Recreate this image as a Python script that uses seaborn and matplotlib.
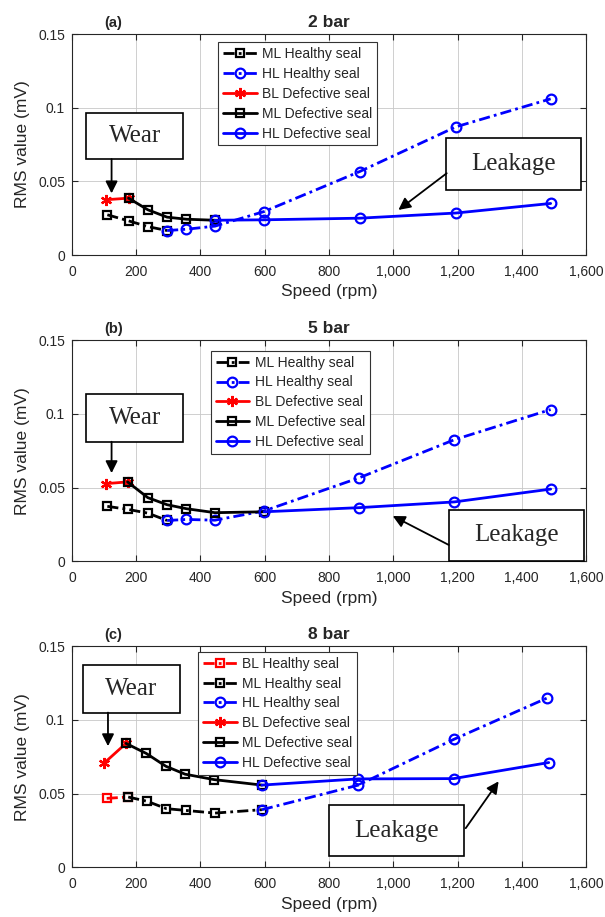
import matplotlib
matplotlib.use("Agg")
import matplotlib.pyplot as plt
import seaborn as sns
from matplotlib.patches import Rectangle

sns.set_style("ticks")
plt.rcParams["font.family"] = ["Liberation Sans", "DejaVu Sans"]

# ---------------- data ----------------
# (a) 2 bar
a_ml_hea_x = [110, 176, 236, 296]
a_ml_hea_y = [0.0273, 0.0232, 0.0193, 0.0166]
a_hl_hea_x = [296, 356, 445, 598, 895, 1195, 1490]
a_hl_hea_y = [0.0166, 0.0175, 0.0196, 0.0295, 0.0566, 0.087, 0.106]
a_bl_def_x = [105, 176]
a_bl_def_y = [0.0375, 0.0386]
a_ml_def_x = [176, 236, 296, 356, 445]
a_ml_def_y = [0.0386, 0.0307, 0.0257, 0.0243, 0.0236]
a_hl_def_x = [445, 598, 895, 1195, 1490]
a_hl_def_y = [0.0236, 0.0239, 0.025, 0.0285, 0.035]

# (b) 5 bar
b_ml_hea_x = [110, 175, 236, 296]
b_ml_hea_y = [0.0373, 0.0352, 0.0327, 0.0277]
b_hl_hea_x = [296, 356, 445, 598, 893, 1190, 1490]
b_hl_hea_y = [0.0277, 0.0284, 0.0279, 0.0342, 0.0566, 0.0825, 0.103]
b_bl_def_x = [106, 173]
b_bl_def_y = [0.0527, 0.0539]
b_ml_def_x = [173, 236, 296, 356, 445, 598]
b_ml_def_y = [0.0539, 0.0432, 0.0384, 0.0357, 0.033, 0.0336]
b_hl_def_x = [598, 893, 1190, 1490]
b_hl_def_y = [0.0336, 0.0364, 0.0403, 0.049]

# (c) 8 bar
c_bl_hea_x = [108, 175]
c_bl_hea_y = [0.0468, 0.0477]
c_ml_hea_x = [175, 234, 294, 354, 445, 591]
c_ml_hea_y = [0.0477, 0.0448, 0.0398, 0.0386, 0.0368, 0.0391]
c_hl_hea_x = [591, 890, 1188, 1480]
c_hl_hea_y = [0.0391, 0.0557, 0.0868, 0.115]
c_bl_def_x = [99, 168]
c_bl_def_y = [0.0705, 0.0841]
c_ml_def_x = [168, 231, 292, 352, 443, 591]
c_ml_def_y = [0.0841, 0.0773, 0.0686, 0.0632, 0.0595, 0.0558]
c_hl_def_x = [591, 891, 1188, 1484]
c_hl_def_y = [0.0558, 0.06, 0.0602, 0.0711]

x_ticks = [0, 200, 400, 600, 800, 1000, 1200, 1400, 1600]
x_tick_labels = ["0", "200", "400", "600", "800", "1,000", "1,200", "1,400", "1,600"]
y_ticks = [0, 0.05, 0.1, 0.15]
y_tick_labels = ["0", "0.05", "0.1", "0.15"]

titles = ["2 bar", "5 bar", "8 bar"]
tags = ["(a)", "(b)", "(c)"]

# ---------------- styles ----------------
DASHDOT = (0, (4.0, 1.5, 1.0, 1.5))
STAR = (6, 2, 0)
sty = {
    "BL Healthy seal": ("red", DASHDOT, "s", 6),
    "ML Healthy seal": ("black", DASHDOT, "s", 6),
    "HL Healthy seal": ("blue", DASHDOT, "o", 7),
    "BL Defective seal": ("red", "-", STAR, 8),
    "ML Defective seal": ("black", "-", "s", 6),
    "HL Defective seal": ("blue", "-", "o", 7),
}

panels = [
    [("ML Healthy seal", a_ml_hea_x, a_ml_hea_y),
     ("HL Healthy seal", a_hl_hea_x, a_hl_hea_y),
     ("BL Defective seal", a_bl_def_x, a_bl_def_y),
     ("ML Defective seal", a_ml_def_x, a_ml_def_y),
     ("HL Defective seal", a_hl_def_x, a_hl_def_y)],
    [("ML Healthy seal", b_ml_hea_x, b_ml_hea_y),
     ("HL Healthy seal", b_hl_hea_x, b_hl_hea_y),
     ("BL Defective seal", b_bl_def_x, b_bl_def_y),
     ("ML Defective seal", b_ml_def_x, b_ml_def_y),
     ("HL Defective seal", b_hl_def_x, b_hl_def_y)],
    [("BL Healthy seal", c_bl_hea_x, c_bl_hea_y),
     ("ML Healthy seal", c_ml_hea_x, c_ml_hea_y),
     ("HL Healthy seal", c_hl_hea_x, c_hl_hea_y),
     ("BL Defective seal", c_bl_def_x, c_bl_def_y),
     ("ML Defective seal", c_ml_def_x, c_ml_def_y),
     ("HL Defective seal", c_hl_def_x, c_hl_def_y)],
]

# annotation layout (axes fraction)
legend_anchor = [(0.285, 0.962), (0.27, 0.953), (0.246, 0.975)]
wear_box = [(0.028, 0.434, 0.188, 0.208), (0.028, 0.541, 0.188, 0.217), (0.021, 0.70, 0.189, 0.216)]
wear_arrow = [((0.077, 0.434), (0.077, 0.279)), ((0.077, 0.541), (0.077, 0.399)),
              ((0.070, 0.70), (0.070, 0.548))]
leak_box = [(0.727, 0.292, 0.263, 0.237), (0.733, 0.003, 0.264, 0.230), (0.50, 0.051, 0.263, 0.229)]
leak_arrow = [((0.729, 0.37), (0.635, 0.204)), ((0.733, 0.074), (0.624, 0.205)),
              ((0.766, 0.177), (0.830, 0.389))]

fig = plt.figure(figsize=(6.05, 9.17), dpi=100)
bottoms = [0.7219, 0.3879, 0.0542]
axes = [fig.add_axes([0.119, b, 0.8496, 0.241]) for b in bottoms]

for i, ax in enumerate(axes):
    for lbl, xs, ys in panels[i]:
        c, ls, mk, ms = sty[lbl]
        sns.lineplot(x=xs, y=ys, ax=ax, sort=False, estimator=None, color=c,
                     linestyle=ls, linewidth=2, marker=mk, markersize=ms,
                     markerfacecolor="none", markeredgecolor=c, markeredgewidth=1.6,
                     label=lbl)
    ax.set_xlim(0, 1600)
    ax.set_ylim(0, 0.15)
    ax.set_xticks(x_ticks)
    ax.set_xticklabels(x_tick_labels)
    ax.set_yticks(y_ticks)
    ax.set_yticklabels(y_tick_labels)
    ax.grid(True, color="#c8c8c8", linewidth=0.6)
    ax.set_axisbelow(True)
    for sp in ax.spines.values():
        sp.set_visible(True)
        sp.set_color("#262626")
        sp.set_linewidth(0.8)
    ax.tick_params(direction="in", length=4, top=True, right=True, labelsize=10,
                   colors="#262626", labelcolor="#262626")
    ax.tick_params(axis="x", pad=7)
    ax.tick_params(axis="y", pad=5)
    ax.set_xlabel("Speed (rpm)", fontsize=12.5, color="#262626", labelpad=4)
    ax.set_ylabel("RMS value (mV)", fontsize=12.5, color="#262626", labelpad=6)
    ax.set_title(titles[i], fontsize=12.5, fontweight="bold", pad=5)
    ax.annotate(tags[i], xy=(0.081, 1.0), xycoords="axes fraction", xytext=(0, 5),
                textcoords="offset points", ha="center", va="baseline",
                fontsize=10.5, fontweight="bold")

    leg = ax.legend(loc="upper left", bbox_to_anchor=legend_anchor[i], fontsize=10,
                    handlelength=2.4, handletextpad=0.4, borderpad=0.35,
                    labelspacing=0.42, fancybox=False, framealpha=1,
                    edgecolor="#333333", borderaxespad=0)
    leg.get_frame().set_linewidth(0.8)

    for box, arr, txt in [(wear_box[i], wear_arrow[i], "Wear"),
                          (leak_box[i], leak_arrow[i], "Leakage")]:
        x0, y0, w, h = box
        ax.add_patch(Rectangle((x0, y0), w, h, transform=ax.transAxes,
                               facecolor="white", edgecolor="black", linewidth=1.2,
                               zorder=6, clip_on=False))
        ax.text(x0 + w / 2, y0 + h / 2, txt, transform=ax.transAxes, ha="center",
                va="center", fontsize=18, family="Liberation Serif", zorder=7)
        ax.annotate("", xy=arr[1], xytext=arr[0], xycoords="axes fraction",
                    arrowprops=dict(arrowstyle="-|>", color="black", lw=1.3,
                                    mutation_scale=18, shrinkA=0, shrinkB=0),
                    zorder=7)

fig.savefig("out.png", dpi=100)
